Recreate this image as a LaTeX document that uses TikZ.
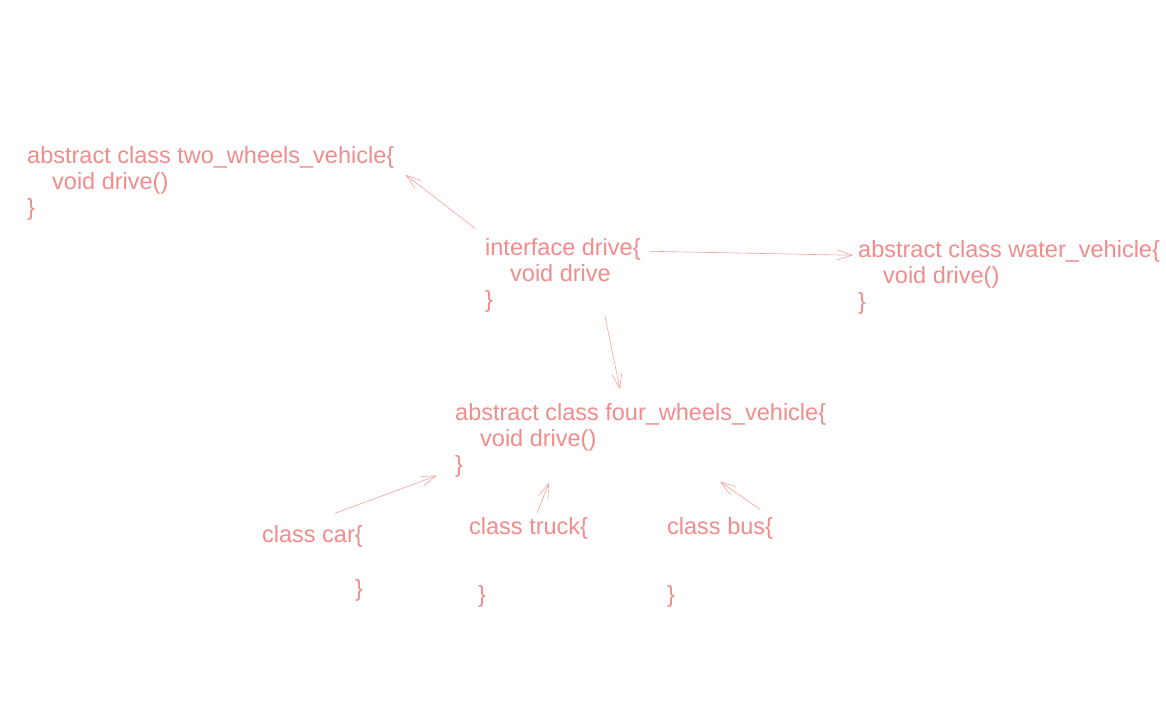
\documentclass[tikz,border=0pt]{standalone}
\usepackage{fontspec}
\setmainfont{Liberation Sans}
\usetikzlibrary{arrows.meta}
\definecolor{cText} {RGB}{240, 140, 140}
\definecolor{cArrow}{RGB}{244, 160, 160}
\tikzset{
  cls/.style = {anchor=base west, inner sep=0pt, align=left, text=cText,
                font=\fontsize{23.5}{26}\selectfont},
  A/.style   = {-{Straight Barb[length=15pt, width=10pt]}, cArrow, line width=0.6pt},
}
\newcommand{\ind}{\hspace*{25pt}}

\begin{document}
\begin{tikzpicture}[x=1pt, y=-1pt]

%% Layout (pixels, y down; node base = baseline of its last line):
%% x: 27=two, 455=four, 485=iface, 858=water
%% y: 215=two, 307=iface, 472=four, 596..602=leaf classes

\useasboundingbox (0,0) rectangle (1166,707);

%% ─── interface ──────────────────────────────────────────────────
\node[cls] (iface) at (485,307.5)
  {interface drive\{\\ \ind void drive\\ \}};

%% ─── abstract classes ───────────────────────────────────────────
\node[cls] (two) at (27,215)
  {abstract class two\_wheels\_vehicle\{\\ \ind void drive()\\ \}};
\node[cls] (water) at (858,309.5)
  {abstract class water\_vehicle\{\\ \ind void drive()\\ \}};
\node[cls] (four) at (455,472.5)
  {abstract class four\_wheels\_vehicle\{\\ \ind void drive()\\ \}};

\draw[A] ([shift={(-10,-10)}]iface.north west) -- ([shift={(11,29)}]two.north east);
\draw[A] ([shift={(9,13)}]iface.north east)    -- ([shift={(-5,15)}]water.north west);
\draw[A] ([shift={(-36,3)}]iface.south east)   -- ([shift={(165,-14)}]four.north west);

%% ─── concrete classes ───────────────────────────────────────────
\node[cls] (car) at (262,596.5)
  {class car\{\\[28pt] \hspace*{93pt}\}};
\node[cls] (truck) at (469,602.5)
  {class truck\{\\[42pt] \hspace*{9pt}\}};
\node[cls] (bus) at (667,602.5)
  {class bus\{\\[42pt] \}};

\draw[A] ([shift={(73,-12)}]car.north west)  -- ([shift={(-18,-2)}]four.south west);
\draw[A] ([shift={(68,-4)}]truck.north west) -- ([shift={(94,5)}]four.south west);
\draw[A] ([shift={(93,-8)}]bus.north west)   -- ([shift={(265,4)}]four.south west);

\end{tikzpicture}
\end{document}
